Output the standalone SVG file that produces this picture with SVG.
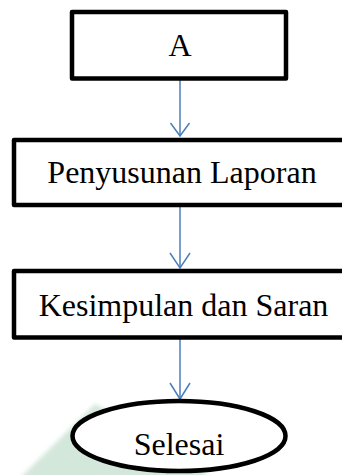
<svg xmlns="http://www.w3.org/2000/svg" width="342" height="475" viewBox="0 0 342 475">
  <style>
    .box { fill: #ffffff; stroke: #000000; stroke-width: 4.5; stroke-linejoin: round; }
    .label { font-family: "Liberation Serif", "Times New Roman", serif; font-size: 32px; fill: #000000; text-anchor: middle; }
    .flow { fill: none; stroke: #4a7ebb; stroke-width: 1.5; }
  </style>
  <defs>
    <filter id="soft" x="-10%" y="-10%" width="120%" height="120%">
      <feGaussianBlur stdDeviation="2"/>
    </filter>
  </defs>

  <rect width="342" height="475" fill="#ffffff"/>

  <!-- faint background emblem -->
  <polygon points="95,404 20,478 210,478 140,428" fill="#d3e7da" filter="url(#soft)"/>

  <!-- vertical flow lines with open V heads -->
  <g id="connectors">
    <line class="flow" x1="180" y1="80" x2="180" y2="136"/>
    <polyline class="flow" points="170.5,123 180,136 189.5,123"/>
    <line class="flow" x1="180" y1="207" x2="180" y2="268"/>
    <polyline class="flow" points="170,253 180,268 190,253"/>
    <line class="flow" x1="180" y1="339" x2="180" y2="399"/>
    <polyline class="flow" points="170,383 180,399 190,383"/>
  </g>

  <g id="node-a">
    <rect class="box" x="72" y="12" width="214" height="66.5"/>
    <text class="label" x="180" y="56">A</text>
  </g>

  <g id="node-penyusunan">
    <rect class="box" x="14" y="140" width="340" height="65"/>
    <text class="label" x="182" y="183">Penyusunan Laporan</text>
  </g>

  <g id="node-kesimpulan">
    <rect class="box" x="14" y="271" width="340" height="66.5"/>
    <text class="label" x="183.5" y="316">Kesimpulan dan Saran</text>
  </g>

  <g id="node-selesai">
    <ellipse class="box" cx="179" cy="436" rx="106.5" ry="35"/>
    <text class="label" x="179" y="455">Selesai</text>
  </g>
</svg>
